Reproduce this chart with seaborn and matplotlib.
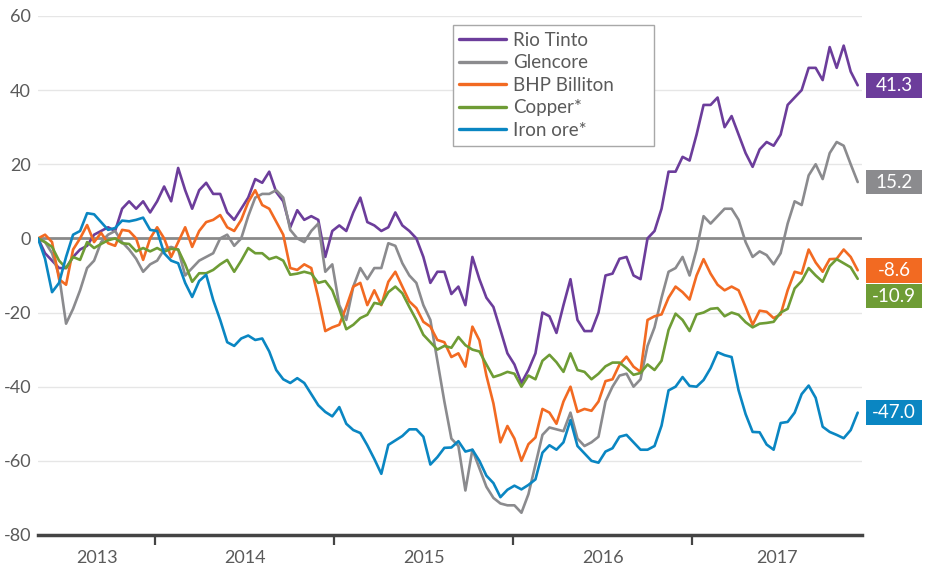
import numpy as np
import pandas as pd
import matplotlib.pyplot as plt
import matplotlib.transforms as mtransforms
from matplotlib.patches import Rectangle
import seaborn as sns

# share price / commodity performance, % change, sampled roughly every two weeks
names = ["Rio Tinto", "Glencore", "BHP Billiton", "Copper*", "Iron ore*"]
colors = ["#6c3d9b", "#8b8b8e", "#f26a22", "#6e9c35", "#0a86c2"]

rio = [0, -4, -6, -8, -8, -5, -3, -2, 1, 2, 3, 2, 8, 10, 8, 10, 7, 10, 14, 10,
       19, 13, 8, 13, 15, 12, 12, 7, 5, 8, 11, 16, 15, 18, 12.5, 10, 3, 7.6, 5, 6,
       5, -5, 2, 3.5, 2, 7, 11, 4.4, 3.5, 2, 3, 7, 3.5, 2, 0, -5, -12, -9, -9, -15,
       -13, -18, -5, -11, -16, -18.5, -24.7, -31, -34, -39, -35.5, -31, -20, -21, -25.5, -18, -11, -22, -25, -25,
       -20, -10, -9.5, -5.5, -5, -10, -11, 0, 2, 8, 18, 18, 22, 21, 28, 36, 36, 38, 30, 33,
       28, 23, 19.3, 24, 26, 25, 28, 36, 38, 40, 46, 46, 42.7, 51.6, 46, 52, 45, 41.3]

glencore = [0, -1, -4, -10, -23, -19, -14, -8, -6, -1, 1, 2, -1, -3, -5.5, -9, -7, -6, -3, -2.3,
            -3, -10, -8, -6, -5, -4, 0, 1, -2, 0, 6, 11, 12, 12, 13, 11, 2.3, 0, -1, 2,
            4, -9, -7, -18, -22, -13, -8, -11, -8, -8, -1.3, -2, -6.7, -10, -12, -18, -22, -33, -44, -54,
            -56, -68, -57, -62, -67, -70, -71.5, -72, -72, -74, -69, -61, -53, -51, -51.5, -52, -47, -54, -56, -55,
            -53.5, -44, -40, -37, -36.5, -40, -38, -29, -24, -16, -9, -8, -5, -10, -3, 6, 4, 6, 8, 8,
            5, -1, -5, -3.5, -4.5, -7, -4, 4, 10, 9, 17, 20, 16, 23, 26, 25, 20, 15.2]

bhp = [0, 1, -1, -11, -12.5, -3, 0, 3.6, -1, 1.5, -1.3, -2, 2.3, 2, 0, -5.8, 0, 3, 0, -5,
       -1, 3, -2.3, 2, 4.4, 5, 6.3, 3, 2, 5, 9.8, 13, 9, 8, 4.5, 1, -8, -8.5, -7, -8,
       -16, -25, -24, -23.3, -18.5, -13, -12, -18, -14, -18, -11.7, -9, -13, -17, -18.8, -22.5, -23.8, -27.4, -28, -32,
       -31, -34.6, -23.8, -27.5, -37, -44.5, -55, -50.6, -54, -60, -55.5, -53.7, -46, -47, -50, -44, -40, -46.8, -46, -46.5,
       -44, -38.5, -38, -34, -31.9, -34.6, -36, -22, -21, -20.5, -16, -13, -14.5, -16.5, -10, -5.6, -9.5, -12.5, -14, -13,
       -14, -18.5, -23.3, -19.5, -19.8, -21.5, -20.5, -14, -9, -9.5, -3, -6.5, -9, -5.6, -5.5, -3, -5, -8.6]

copper = [0, -1, -2.3, -6, -8, -5, -5.8, -1, -2.6, -1.5, -0.5, 0, -1.3, -1.5, -3.5, -2.6, -3.5, -2.6, -3.6, -2.8,
          -3, -7, -11.7, -9.4, -9.4, -8.5, -7, -5.8, -9, -6, -2.6, -4, -4, -5.6, -5, -6, -9.8, -9.5, -9, -9.5,
          -12, -11.5, -14, -19, -24.5, -23.3, -21.5, -20.6, -17.4, -17.8, -14.5, -13, -14.8, -18.5, -22, -26, -28, -30, -29, -29.5,
          -26.6, -28.8, -30, -30.5, -34, -37.4, -36.8, -36, -36.5, -40, -37, -38, -33, -31.4, -33.4, -36, -31, -35.5, -36, -38,
          -36.5, -34.5, -33.5, -33.5, -35, -36.8, -36.3, -34, -35.5, -33, -24.7, -20.3, -22, -25, -20.5, -20, -19, -18.8, -21, -20,
          -20.6, -22.6, -24, -23, -22.8, -22.5, -20, -19, -13.5, -11.5, -8, -10, -11.7, -7.5, -5.6, -6.7, -7.8, -10.9]

iron_ore = [0, -5.5, -14.5, -12, -5, 1, 2, 6.8, 6.5, 4.4, 2.3, 2.8, 4.8, 4.6, 5, 5.6, 2.3, 2, -4, -6,
            -6.7, -12, -15.8, -11.5, -9.8, -16.6, -22, -28, -29, -27, -26.2, -27.4, -27, -30.5, -35.5, -38, -39, -37.7, -39, -42,
            -45, -46.8, -48, -45.5, -50, -51.7, -52.5, -55.8, -59.5, -63.5, -55.7, -54.5, -53.3, -51.5, -51.5, -53.5, -61, -59, -56.5, -56.4,
            -54.7, -57.5, -57, -60, -64, -66, -69.8, -67.8, -66.7, -67.7, -66.5, -65, -57.8, -55.8, -57, -55, -49, -56, -58, -60,
            -60.5, -57.5, -56.6, -53.5, -53, -55, -57, -57, -56, -50.5, -41, -40, -37.4, -39.8, -40, -38.2, -35, -30.7, -31.5, -32,
            -41, -47.4, -52.2, -52.3, -55.6, -57, -49.8, -49.5, -47, -42, -39.7, -43, -50.8, -52.2, -53, -53.9, -51.7, -47]

years = ["2013", "2014", "2015", "2016", "2017"]
yticks = [-80, -60, -40, -20, 0, 20, 40, 60]

dates = pd.date_range("2013-05-07", "2017-12-04", periods=len(rio))
series = [rio, glencore, bhp, copper, iron_ore]
df = pd.DataFrame({
    "date": np.tile(dates, len(names)),
    "series": np.repeat(names, len(dates)),
    "value": np.concatenate(series),
})

sns.set_style("white")
plt.rcParams["font.family"] = ["Lato", "DejaVu Sans"]

fig = plt.figure(figsize=(9.28, 5.66), dpi=100)
ax = fig.add_axes([0.041, 0.0548, 0.888, 0.917])

ax.yaxis.grid(True, color="#e6e6e6", linewidth=1)
ax.set_axisbelow(True)
ax.axhline(0, color="#8a8a8a", linewidth=2, zorder=1.5)

sns.lineplot(data=df, x="date", y="value", hue="series", hue_order=names,
             palette=colors, linewidth=1.9, estimator=None, ax=ax, legend=False)

xmin, xmax = pd.Timestamp("2013-05-07"), pd.Timestamp("2017-12-13")
ax.set_xlim(xmin, xmax)
ax.set_ylim(-80, 60)
ax.set_yticks(yticks)
ax.set_yticklabels([str(v) for v in yticks])
ax.set_xlabel("")
ax.set_ylabel("")

bounds = [xmin] + [pd.Timestamp(f"{y}-01-01") for y in years[1:]] + [xmax]
ax.set_xticks(bounds[1:-1])
ax.set_xticklabels([])
mids = [bounds[i] + (bounds[i + 1] - bounds[i]) / 2 for i in range(len(years))]
ax.set_xticks(mids, minor=True)
ax.set_xticklabels(years, minor=True)
ax.tick_params(axis="x", which="major", bottom=True, direction="out", length=7,
               width=1.6, color="#444444")
ax.tick_params(axis="x", which="minor", bottom=True, length=0, pad=11,
               labelsize=13, labelcolor="#5a5a5a")
ax.tick_params(axis="y", length=0, pad=5, labelsize=13, labelcolor="#5a5a5a")

sns.despine(ax=ax, left=True)
ax.spines["bottom"].set_color("#444444")
ax.spines["bottom"].set_linewidth(2.5)

# legend with its own wider frame, as in the original
handles = [plt.Line2D([], [], color=c, linewidth=2.4) for c in colors]
leg = fig.legend(handles, names, loc="upper left", bbox_to_anchor=(459 / 928, 1 - 32 / 566),
                 fontsize=13.5, frameon=False, handlelength=2.5,
                 handletextpad=0.4, labelspacing=0.29, borderpad=0, borderaxespad=0)
for t in leg.get_texts():
    t.set_color("#5a5a5a")
fig.patches.append(Rectangle((453 / 928, 1 - 146 / 566), 201 / 928, 121 / 566,
                             transform=fig.transFigure, facecolor="white",
                             edgecolor="#a8a8a8", linewidth=1, zorder=0.5))

# end-value boxes on the right, nudged apart when they overlap
trans = mtransforms.blended_transform_factory(fig.transFigure, ax.transData)
box_h = 7.0
order = sorted(range(len(names)), key=lambda k: -series[k][-1])
prev = None
for k in order:
    val = series[k][-1]
    yc = val if prev is None else min(val, prev - box_h)
    prev = yc
    ax.add_patch(Rectangle((866 / 928, yc - box_h / 2 + 0.2), 56 / 928, box_h - 0.4,
                           transform=trans, facecolor=colors[k], edgecolor="none", clip_on=False))
    ax.text(894 / 928, yc, f"{val:.1f}", transform=trans, ha="center", va="center",
            color="white", fontsize=13.5, clip_on=False)

fig.savefig("out.png", dpi=100)
